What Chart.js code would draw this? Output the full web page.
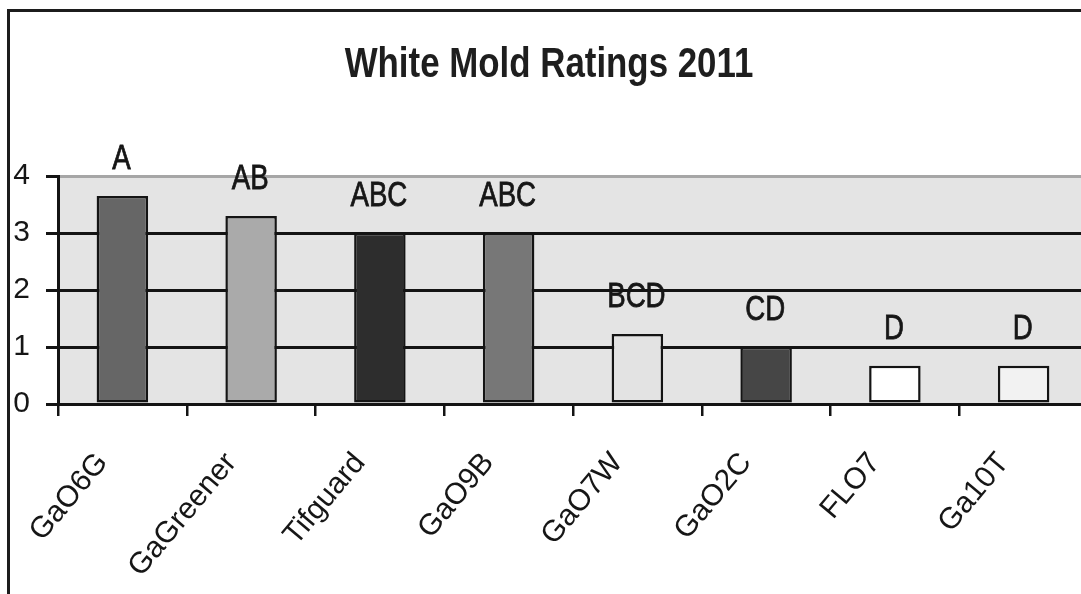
<!DOCTYPE html>
<html>
<head>
<meta charset="utf-8">
<title>White Mold Ratings 2011</title>
<script src="https://cdn.jsdelivr.net/npm/chart.js@4.4.1/dist/chart.umd.min.js"></script>
<style>
  html, body { margin: 0; padding: 0; background: #ffffff; overflow: hidden; }
  #wrap { position: absolute; left: 0; top: 0; width: 1100px; height: 594px; }
  #frame {
    position: absolute; left: 7px; top: 9px; width: 1100px; height: 600px;
    border-left: 3px solid #1c1c1c; border-top: 3px solid #1c1c1c;
    pointer-events: none;
  }
</style>
</head>
<body>
<div id="wrap"><canvas id="chart" width="1100" height="594"></canvas></div>
<div id="frame"></div>
<script>
// Cultivars and their mean white mold rating
const categories = ['GaO6G', 'GaGreener', 'Tifguard', 'GaO9B', 'GaO7W', 'GaO2C', 'FLO7', 'Ga10T'];
const ratings = [3.65, 3.3, 3.0, 3.0, 1.23, 1.0, 0.67, 0.67];
// Mean separation letters shown above each bar
const letters = ['A', 'AB', 'ABC', 'ABC', 'BCD', 'CD', 'D', 'D'];
// Fill shade of each bar
const barColors = ['#666666', '#aaaaaa', '#2d2d2d', '#777777', '#e3e3e3', '#464646', '#ffffff', '#f2f2f2'];
const yTicks = [0, 1, 2, 3, 4];
const titleText = 'White Mold Ratings 2011';

// Light grey plot area behind the bars
const plotBackground = {
  id: 'plotBackground',
  beforeDraw(chart) {
    const { ctx, chartArea: a } = chart;
    ctx.save();
    ctx.fillStyle = '#e4e4e4';
    ctx.fillRect(a.left, a.top, a.right - a.left, a.bottom - a.top);
    ctx.restore();
  }
};

// Condensed heading above the plot
const condensedTitle = {
  id: 'condensedTitle',
  afterDraw(chart) {
    const ctx = chart.ctx;
    ctx.save();
    ctx.translate(549, 77);
    ctx.scale(0.83, 1);
    ctx.font = 'bold 42px "Liberation Sans", Arial, sans-serif';
    ctx.fillStyle = '#1e1e1e';
    ctx.textAlign = 'center';
    ctx.textBaseline = 'alphabetic';
    ctx.fillText(titleText, 0, 0);
    ctx.restore();
  }
};

// Letter groups drawn just above each bar top
const letterLabels = {
  id: 'letterLabels',
  afterDatasetsDraw(chart) {
    const ctx = chart.ctx;
    const meta = chart.getDatasetMeta(0);
    ctx.save();
    ctx.font = '35px "Liberation Sans", Arial, sans-serif';
    ctx.fillStyle = '#161616';
    ctx.strokeStyle = '#161616';
    ctx.lineWidth = 0.8;
    ctx.textAlign = 'center';
    ctx.textBaseline = 'alphabetic';
    meta.data.forEach((bar, i) => {
      ctx.save();
      ctx.translate(bar.x - 1, bar.y - 27);
      ctx.scale(0.79, 1);
      ctx.fillText(letters[i], 0, 0);
      ctx.strokeText(letters[i], 0, 0);
      ctx.restore();
    });
    ctx.restore();
  }
};

new Chart(document.getElementById('chart'), {
  type: 'bar',
  data: {
    labels: categories,
    datasets: [{
      data: ratings,
      backgroundColor: barColors,
      borderColor: '#141414',
      borderWidth: 2.5,
      borderSkipped: false,
      barPercentage: 0.4,
      categoryPercentage: 1.0
    }]
  },
  options: {
    responsive: false,
    animation: false,
    layout: { padding: { top: 176, left: 0, right: 12, bottom: 0 } },
    plugins: {
      legend: { display: false },
      title: { display: false },
      tooltip: { enabled: false }
    },
    scales: {
      x: {
        offset: true,
        afterFit(scale) { scale.height = 190; },
        grid: {
          offset: true,
          drawOnChartArea: false,
          drawTicks: true,
          tickLength: 12,
          color: '#141414',
          lineWidth: 2.5
        },
        border: { display: true, color: '#141414', width: 3 },
        ticks: {
          autoSkip: false,
          minRotation: 50,
          maxRotation: 50,
          padding: 30,
          labelOffset: -20,
          color: '#161616',
          font: { family: '"Liberation Sans", Arial, sans-serif', size: 30 }
        }
      },
      y: {
        min: 0,
        max: 4,
        afterFit(scale) { scale.width = 58; },
        afterBuildTicks(scale) { scale.ticks = yTicks.map(v => ({ value: v })); },
        grid: {
          drawTicks: true,
          tickLength: 12,
          color: ctx => (ctx.tick && ctx.tick.value === 4 ? '#a6a6a6' : '#141414'),
          tickColor: '#141414',
          lineWidth: 3
        },
        border: { display: true, color: '#141414', width: 3 },
        ticks: {
          padding: 16,
          color: '#161616',
          font: { family: '"Liberation Sans", Arial, sans-serif', size: 30 }
        }
      }
    }
  },
  plugins: [plotBackground, condensedTitle, letterLabels]
});
</script>
</body>
</html>
